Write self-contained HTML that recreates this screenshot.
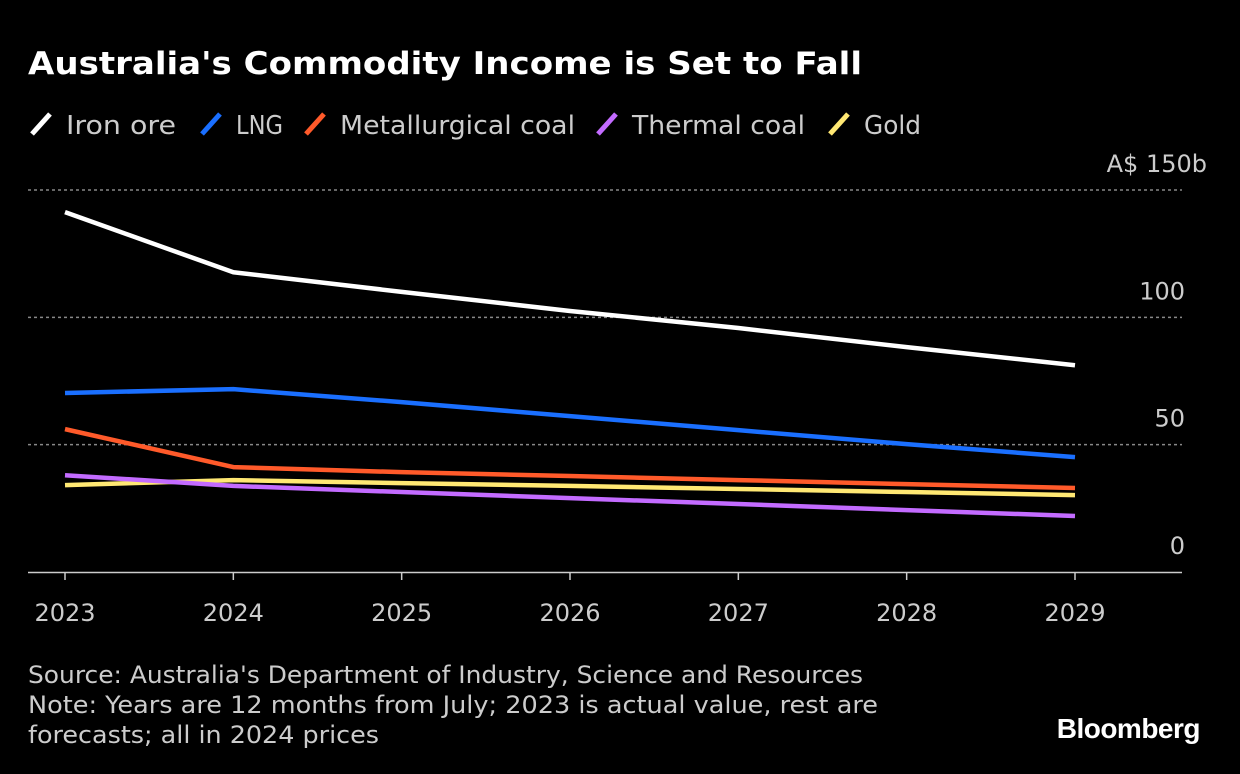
<!DOCTYPE html>
<html><head><meta charset="utf-8"><style>
html,body{margin:0;padding:0;background:#000;}
body{width:1240px;height:774px;overflow:hidden;font-family:"DejaVu Sans","Liberation Sans",sans-serif;color:#fff;position:relative}
</style></head><body>
<svg id="chart" width="1240" height="774" xmlns="http://www.w3.org/2000/svg" style="position:absolute;left:0;top:0" font-family="DejaVu Sans, Liberation Sans, sans-serif">
<text x="28" y="74" font-size="31" font-weight="bold" fill="#fff" textLength="834" lengthAdjust="spacingAndGlyphs">Australia's Commodity Income is Set to Fall</text>
<g id="legend"></g>
<g id="grid"></g>
<g id="series"></g>
<g id="xaxis"></g>
<text x="28" y="683" font-size="24" fill="#ccc" textLength="835" lengthAdjust="spacingAndGlyphs">Source: Australia's Department of Industry, Science and Resources</text>
<text x="28" y="713" font-size="24" fill="#ccc" textLength="850" lengthAdjust="spacingAndGlyphs">Note: Years are 12 months from July; 2023 is actual value, rest are</text>
<text x="28" y="743" font-size="24" fill="#ccc" textLength="351" lengthAdjust="spacingAndGlyphs">forecasts; all in 2024 prices</text>
<text x="1200" y="738" font-family="Liberation Sans, sans-serif" font-size="28" font-weight="bold" fill="#fff" text-anchor="end" letter-spacing="-0.5">Bloomberg</text>
</svg>
<script>
const years=[2023,2024,2025,2026,2027,2028,2029];
const ironOre=[141.3,117.7,110,102.5,95.8,88.3,81.2];
const lng=[70.3,71.8,66.7,61.2,55.7,50.2,45.1];
const metCoal=[56.1,41.2,39.2,37.7,36.1,34.5,33];
const thermalCoal=[38,33.8,31.4,29,26.7,24.3,22];
const gold=[34.1,36.1,34.9,33.8,32.6,31.4,30.2];
const yTicks=[0,50,100,150];
const yTickLabels=["0","50","100","A$ 150b"];
const seriesNames=["Iron ore","LNG","Metallurgical coal","Thermal coal","Gold"];
const seriesColors=["#ffffff","#1a6fff","#ff5a2a","#c36bff","#ffe873"];
const seriesData=[ironOre,lng,metCoal,thermalCoal,gold];

const NS="http://www.w3.org/2000/svg";
function x(yr){return 65+(yr-2023)*(1075-65)/6;}
function y(v){return 572-v*(572-190)/150;}
function mk(t,a,p){const e=document.createElementNS(NS,t);for(const k in a)e.setAttribute(k,a[k]);p.appendChild(e);return e;}

const grid=document.getElementById('grid');
yTicks.forEach((v,i)=>{
  if(v>0){const l=mk('line',{x1:28,x2:1182,y1:y(v),y2:y(v),stroke:'#888','stroke-width':1.5,'stroke-dasharray':'3,3'},grid);
  
  }
  const t=mk('text',{x:v===150?1207:1185,y:y(v)-18,'font-size':24,fill:'#ccc','text-anchor':'end'},grid);
  t.textContent=yTickLabels[i];
  
  
});
const xa=document.getElementById('xaxis');
const base=mk('line',{x1:28,x2:1182,y1:572.5,y2:572.5,stroke:'#ccc','stroke-width':1.5},xa);


years.forEach(yr=>{
  const tk=mk('line',{x1:x(yr),x2:x(yr),y1:572,y2:580,stroke:'#ccc','stroke-width':1.5},xa);
  
  
  const t=mk('text',{x:x(yr),y:621,'font-size':24,fill:'#ccc','text-anchor':'middle'},xa);
  t.textContent=yr;
  
  
});
const sg=document.getElementById('series');
[4,3,2,1,0].forEach(i=>{
  const pts=seriesData[i].map((v,j)=>x(years[j])+','+y(v)).join(' ');
  const pl=mk('polyline',{points:pts,fill:'none',stroke:seriesColors[i],'stroke-width':4.5,'stroke-linejoin':'round'},sg);
  
  
});
const lg=document.getElementById('legend');
const legendX=[32,202,306,598,830];
const legendW=[110,47,235,173,57];
seriesNames.forEach((n,i)=>{
  const lx=legendX[i];
  const sw=mk('line',{x1:lx,y1:134,x2:lx+18,y2:114,stroke:seriesColors[i],'stroke-width':5},lg);
  
  
  const t=mk('text',{x:lx+34,y:134,'font-size':26,fill:'#ccc',textLength:legendW[i],lengthAdjust:'spacingAndGlyphs'},lg);
  t.textContent=n;
  
  
});
</script>
</body></html>
